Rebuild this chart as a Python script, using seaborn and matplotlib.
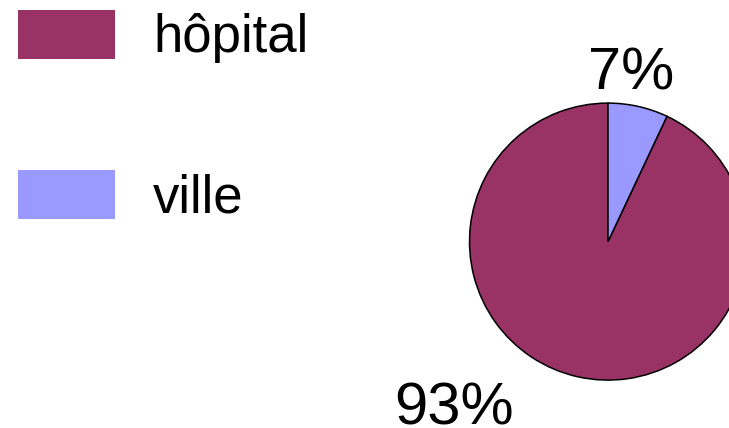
import matplotlib
matplotlib.use("Agg")
import matplotlib.pyplot as plt
import seaborn as sns

categories = ["hôpital", "ville"]
values = [93, 7]
colors = ["#993366", "#9999FF"]

sns.set_theme(style="white")
plt.rcParams["font.family"] = ["Liberation Sans", "DejaVu Sans"]
plt.rcParams["text.color"] = "black"

fig = plt.figure(figsize=(7.29, 4.28), dpi=100)
ax = fig.add_axes([0, 0, 1, 1])

wedges, _ = ax.pie(values, colors=colors, startangle=90, counterclock=True,
                   wedgeprops=dict(edgecolor="black", linewidth=1.1),
                   radius=1.0)

R = 138.5  # px per unit radius
cx, cy = 608, 241.6
ax.set_aspect("auto")
ax.set_xlim(-cx / R, (729 - cx) / R)
ax.set_ylim(-(428 - cy) / R, cy / R)
ax.axis("off")

# percentage labels
ax.text(0.17, 1.095, f"{values[1]}%", ha="center", va="baseline", fontsize=43, color="black")
ax.text(-1.11, -1.324, f"{values[0]}%", ha="center", va="baseline", fontsize=43, color="black")

fs_px = 38 * 100 / 72
leg = ax.legend(wedges, categories, loc="upper left",
                bbox_to_anchor=(18 / 729, 1 - 10 / 428), bbox_transform=fig.transFigure,
                frameon=False, fontsize=38, borderpad=0, borderaxespad=0,
                handlelength=97 / fs_px, handleheight=55.4 / fs_px,
                handletextpad=38 / fs_px, labelspacing=2.02)
for h in leg.legend_handles:
    h.set_edgecolor("none")
for t in leg.get_texts():
    t.set_color("black")

fig.savefig("out.png", dpi=100)
